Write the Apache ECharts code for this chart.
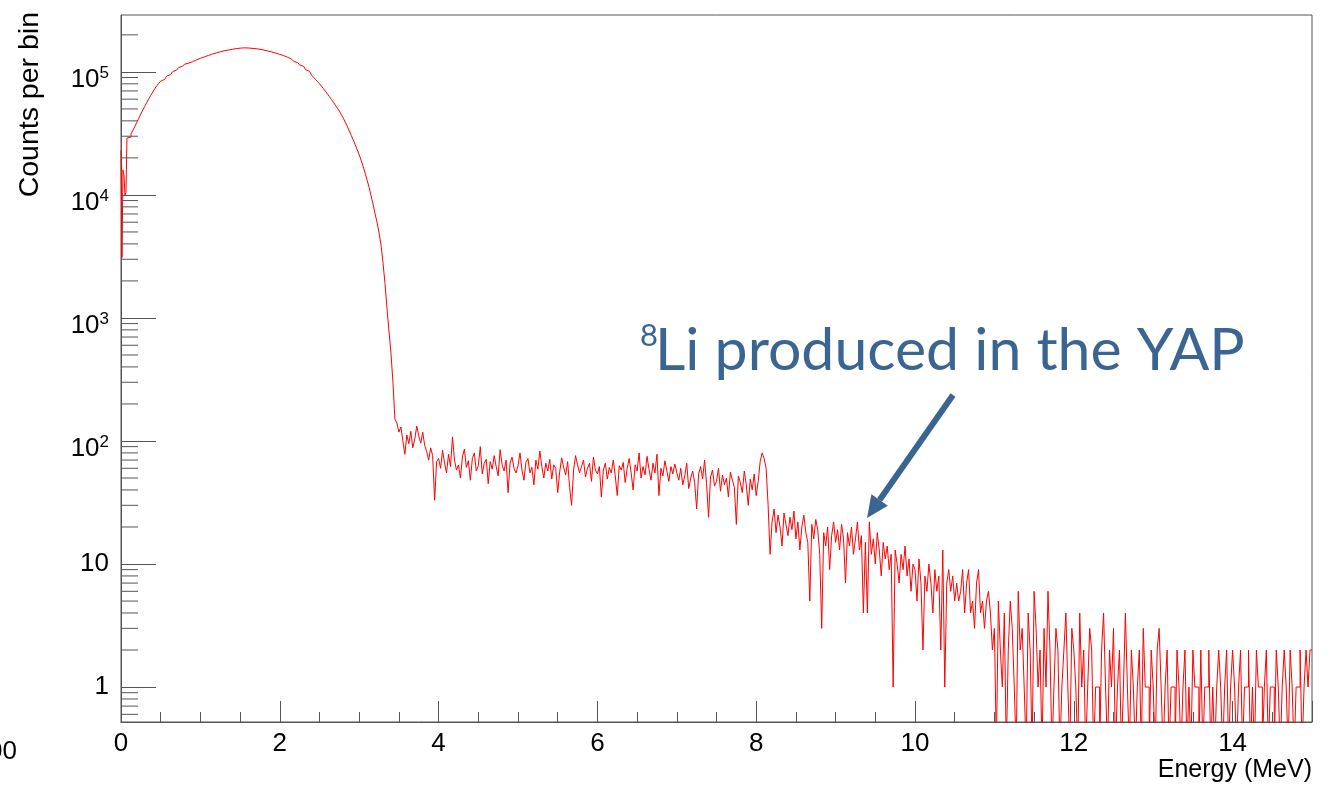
<!DOCTYPE html>
<html><head><meta charset="utf-8">
<script src="https://cdn.jsdelivr.net/npm/echarts@6/dist/echarts.min.js"></script>
<style>html,body{margin:0;padding:0;background:#fff;}#c{width:1327px;height:789px;}</style>
</head><body><div id="c"></div>
<script>
// ---- data (counts per bin) ----
// 0 - 0.1 MeV, bins 0.0125 MeV
const spikeStart = 0, spikeWidth = 0.0125;
const spikeCounts = [23000, 3100, 16000, 14500, 10000, 10500, 29000, 29500];
// 0.1 - 2.9 MeV, bins 0.025 MeV
const peakStart = 0.1, peakWidth = 0.025;
const peakCounts = [29500, 31200, 33500, 36000, 39000, 42000, 45500, 49000, 52500, 56500,
  60500, 64500, 68500, 73000, 77000, 80500, 84000, 87000, 89500, 92500,
  95000, 98000, 100500, 103500, 106000, 108500, 111000, 113500, 115500, 117500,
  119000, 121000, 123000, 125000, 127000, 129000,
  130500, 132500, 134000, 136000, 137500, 139500, 141000, 142500, 144000, 145500,
  147000, 148500, 149500, 150500, 151500, 152500,
  153500, 154500, 155300, 156000, 156500, 156800, 156800, 156500, 156000, 155500,
  155000, 154200, 153500, 152500, 151500, 150500, 149000, 147800, 146500, 145000,
  143500, 142000, 140500, 138800,
  137500, 135500, 133500, 131300, 129000, 126700, 124200, 121600, 119000, 116500,
  114000, 111000, 107800, 104500, 101000, 97500, 94000, 90500, 87000, 83500,
  80000, 76500, 73000, 69600, 66200, 63000, 59800, 56700, 53700, 50800,
  48000, 45000, 42000, 39000, 36000, 33200];
// 2.9 - 15 MeV, bins 0.025 MeV
const tailStart = 2.9, tailWidth = 0.025;
const fallCounts = [30500, 28000, 25600, 23300, 21200, 19100, 17000, 15000, 13200, 11500,
  9800, 8400, 7000, 6000, 4900, 3900, 2800, 1900, 1200, 780, 520, 300, 150];
const flatCounts = [140, 118, 130, 100, 78, 112, 95, 120, 88, 104, 132, 110, 96, 118, 92, 82, 70, 88, 76, 33, 68,
  72, 60, 84, 66, 55, 78, 62, 108, 70, 58, 64, 50, 74, 86, 61, 69, 48, 72, 80, 57,
  63, 90, 54, 66, 71, 45, 68, 59, 76, 62, 52, 85, 64, 57, 70, 38, 66, 74, 60, 55,
  63, 80, 58, 48, 67, 72, 55, 61, 44, 70, 59, 83, 62, 50, 66, 57, 71, 49, 64, 60,
  38, 56, 73, 61, 53, 68, 42, 30, 58, 76, 64, 55, 62, 70, 51, 60, 66, 47, 74, 58,
  54, 62, 35, 58, 66, 49, 61, 55, 70, 52, 36, 63, 58, 67, 46, 60, 72, 55, 40, 64,
  57, 80, 50, 62, 53, 75, 59, 48, 66, 55, 78, 36, 60, 52, 69, 57, 47, 62, 54, 65,
  55, 48, 60, 44, 52, 66, 41, 50, 57, 46, 28, 54, 62, 49, 70, 45, 24, 51, 58, 43,
  47, 60, 39, 53, 44, 50, 35, 56, 48, 42, 21, 52, 46, 38, 57, 44, 30, 49, 40, 54,
  36, 47, 68, 80, 72, 60, 30, 12];
const li8Counts = [22, 28, 18, 25, 20, 14, 26, 21, 17, 24, 19, 27, 16, 22, 13, 20, 25, 18, 15, 5,
  21, 16, 23, 19, 12, 3, 18, 14, 20, 9, 17, 22,
  15, 19, 13, 21, 16, 7, 18, 14, 20, 12, 16, 22, 13, 17, 4, 15, 4, 22, 12, 16,
  10, 18, 13, 8, 15, 11, 14, 9, 12, 1, 13, 10, 7, 12, 9, 14, 8, 11, 6, 10,
  9, 5, 11, 7, 2, 8, 6, 10, 7, 4, 9, 6, 8, 2, 13, 1, 7, 9, 6, 8,
  5, 7, 5, 6, 9, 4, 7, 9, 4, 5, 3, 7, 9, 4, 5, 3, 5, 6, 4, 2];
const sparseCounts = [3, 0, 5, 2, 1, 4, 0, 2, 5, 3, 1, 0, 6, 2, 3, 1, 0, 4, 2, 0,
  6, 3, 1, 2, 0, 3, 1, 6, 2, 0, 1, 3, 2, 0, 1, 2, 4, 1, 0, 3,
  2, 1, 0, 4, 1, 2, 0, 1, 3, 2, 0, 1, 1, 0, 2, 4, 1, 0, 2, 1,
  3, 0, 1, 2, 0, 1, 4, 1, 0, 2, 1, 0, 1, 2, 0, 3, 1, 1, 0, 2,
  1, 0, 2, 3, 1, 0, 1, 2, 0, 1, 1, 0, 2, 1, 0, 1, 2, 0, 1, 0,
  2, 1, 1, 0, 2, 0, 1, 1, 2, 0, 1, 0, 1, 2, 1, 0, 1, 2, 0, 1,
  2, 1, 0, 1, 2, 0, 1, 1, 2, 0, 1, 0, 2, 1, 1, 0, 1, 2, 0, 1,
  1, 0, 2, 1, 0, 1, 2, 1, 0, 2, 1, 0, 1, 1, 2, 0, 1, 2, 1, 2];
const xRange = [0, 15];
const yRange = [0.52, 290000];
const annotationText = 'Li produced in the YAP';
const annotationSup = '8';

// ---- build histogram step points ----
const ZERO_FLOOR = 0.3; // empty bins drop below the axis floor (as ROOT draws them)
const hist = [];
function addBins(start, width, counts) {
  counts.forEach(function (c, i) {
    hist.push([+(start + i * width).toFixed(5), c > 0 ? c : ZERO_FLOOR]);
  });
}
addBins(spikeStart, spikeWidth, spikeCounts);
addBins(peakStart, peakWidth, peakCounts);
addBins(tailStart, tailWidth, fallCounts.concat(flatCounts, li8Counts, sparseCounts));
hist.push([xRange[1], hist[hist.length - 1][1]]);

const minorVals = [];
for (let k = -1; k <= 5; k++) for (let m = 2; m <= 9; m++) {
  const v = m * Math.pow(10, k);
  if (v > yRange[0] && v < yRange[1]) minorVals.push([0, v]);
}

const FONT = '"Liberation Sans", Arial, sans-serif';
const AX = '#555';
const BLUE = '#3a6593';
const chart = echarts.init(document.getElementById('c'), null, {renderer: 'canvas'});
chart.setOption({
  animation: false,
  grid: {left: 121, right: 15, top: 15, bottom: 67, show: true, borderColor: AX, borderWidth: 1, backgroundColor: 'transparent'},
  xAxis: {
    type: 'value', min: xRange[0], max: xRange[1], interval: 2,
    axisLine: {lineStyle: {color: AX, width: 1}},
    axisTick: {inside: true, length: 21, lineStyle: {color: AX}},
    minorTick: {show: true, splitNumber: 4, length: 10, lineStyle: {color: AX}},
    splitLine: {show: false},
    axisLabel: {color: '#000', fontSize: 26, fontFamily: FONT, margin: 9, showMaxLabel: false}
  },
  yAxis: {
    type: 'log', logBase: 10, min: yRange[0], max: yRange[1],
    axisLine: {show: true, lineStyle: {color: AX, width: 1}},
    axisTick: {inside: true, length: 35, lineStyle: {color: AX}},
    splitLine: {show: false},
    axisLabel: {
      color: '#000', fontSize: 26, fontFamily: FONT, margin: 12,
      showMinLabel: false, showMaxLabel: false,
      formatter: function (v) {
        const e = Math.round(Math.log10(v));
        if (Math.abs(v - Math.pow(10, e)) > 1e-6 * v) return '';
        if (e === 0) return '1';
        if (e === 1) return '10';
        return '{b|10}{s|' + e + '}';
      },
      rich: {
        b: {fontSize: 26, lineHeight: 26, fontFamily: FONT, color: '#000', padding: [8, 0, 0, 0], verticalAlign: 'top'},
        s: {fontSize: 17, lineHeight: 17, fontFamily: FONT, color: '#000', padding: [6, 0, 0, 0], verticalAlign: 'top'}
      }
    }
  },
  series: [
    {type: 'line', data: hist, step: 'end', showSymbol: false, symbol: 'none', clip: true,
     lineStyle: {color: '#ff0000', width: 1}, silent: true, z: 2},
    {type: 'custom', data: minorVals, silent: true, clip: false, z: 3,
     renderItem: function (params, api) {
       const p = api.coord([api.value(0), api.value(1)]);
       return {type: 'line', shape: {x1: p[0], y1: p[1], x2: p[0] + 17, y2: p[1]},
               style: {stroke: AX, lineWidth: 1}};
     }}
  ],
  graphic: [
    {type: 'text', x: 30, y: 12, rotation: Math.PI / 2,
     style: {text: 'Counts per bin', font: '28.5px ' + FONT, fill: '#000', textAlign: 'right', textVerticalAlign: 'middle'}},
    {type: 'text', x: 1312, y: 770,
     style: {text: 'Energy (MeV)', font: '25px ' + FONT, fill: '#000', textAlign: 'right', textVerticalAlign: 'middle'}},
    {type: 'text', x: 17, y: 752,
     style: {text: '00', font: '26px ' + FONT, fill: '#000', textAlign: 'right', textVerticalAlign: 'middle'}},
    {type: 'text', x: 640, y: 336,
     style: {text: annotationSup, font: '31px Lato, "Open Sans", sans-serif', fill: BLUE, textAlign: 'left', textVerticalAlign: 'middle'}},
    {type: 'text', x: 655, y: 351,
     style: {text: annotationText, font: '59px Lato, "Open Sans", sans-serif', fill: BLUE, textAlign: 'left', textVerticalAlign: 'middle'}},
    {type: 'line', shape: {x1: 953, y1: 395, x2: 879.6, y2: 500}, style: {stroke: BLUE, lineWidth: 6}},
    {type: 'polygon', shape: {points: [[867, 518], [887.8, 505.7], [871.4, 494.3]]}, style: {fill: BLUE}}
  ]
});
</script></body></html>
